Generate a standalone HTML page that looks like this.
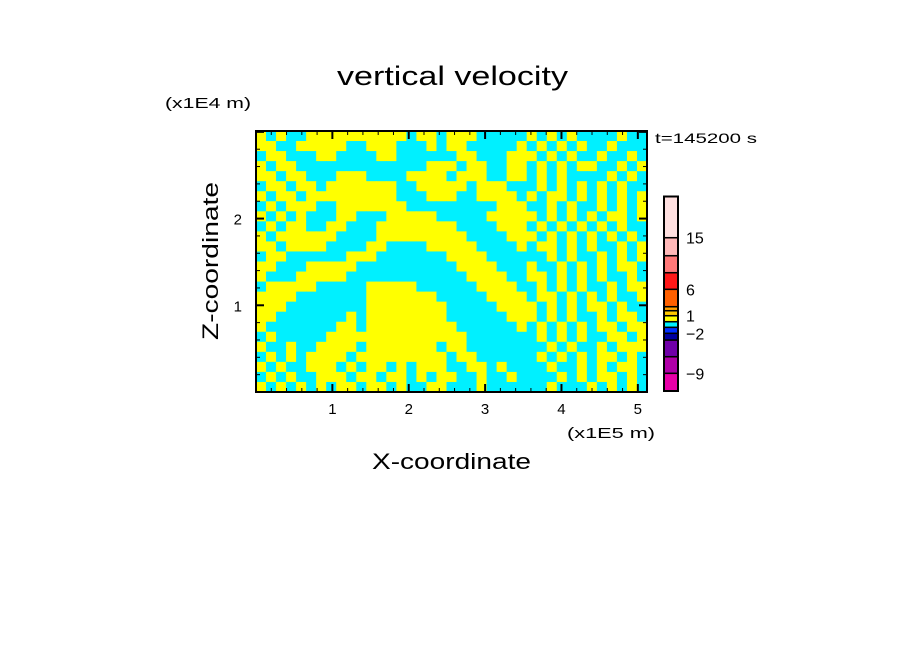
<!DOCTYPE html>
<html><head><meta charset="utf-8"><style>
body{margin:0;background:#fff;}
svg text{font-family:"Liberation Sans","DejaVu Sans",sans-serif;fill:#000;}
</style></head><body>
<svg id="chart" width="904" height="654" viewBox="0 0 904 654" xmlns="http://www.w3.org/2000/svg">
<rect width="904" height="654" fill="#fff"/>
<text x="337" y="85" font-size="27" textLength="231" lengthAdjust="spacingAndGlyphs">vertical velocity</text>
<text x="165" y="108" font-size="15" textLength="86" lengthAdjust="spacingAndGlyphs">(x1E4 m)</text>
<text x="655" y="143" font-size="14" textLength="102" lengthAdjust="spacingAndGlyphs">t=145200 s</text>
<text x="567" y="438" font-size="15" textLength="88" lengthAdjust="spacingAndGlyphs">(x1E5 m)</text>
<text x="372" y="469" font-size="22" textLength="159" lengthAdjust="spacingAndGlyphs">X-coordinate</text>
<text x="0" y="0" font-size="22" textLength="158" lengthAdjust="spacingAndGlyphs" transform="translate(218,340) rotate(-90)">Z-coordinate</text>
<g id="field"></g>
<g id="axes"></g>
<g id="cbar"></g>
</svg>
<script>
const xTicks=[1,2,3,4,5];
const yTicks=[1,2];
const xDomain=[0,5.12];
const yDomain=[0,3.01];
const cbarLevels=[-12,-9,-6,-3,-2,-1,0,1,2,3,6,9,12,15,21];
const cbarColors=["#e800a8","#b000a8","#7000a8","#0000a0","#0030ff","#00f0ff","#ffff00","#ffc800","#ffa000","#ff6000","#ff1818","#ff7878","#ffb8b8","#ffe0e0"];
const cbarLabels=[-9,-2,1,6,15];
const fieldRows=[
"YcYccYYYYYYYYYYcYYcYYYcccccYcYcYccccYcc",
"YYccYYYYYccYYYcccYcYYcccccYcYcYcYccYccc",
"cYYcccYYccccYYccccccYYcccYYYcYcYccYccYc",
"YcYYcccccccccccccYYYcYYccYYcYcYcYYccYcY",
"YYcYYcccYYYccccYYYYcYYYccYYcYcYccccYcYc",
"cYYcYYcYYYYYYYccYYYYYcYYYcccYcYcYcYcYcc",
"YcYYcYYYYYYYYYcccYYYccYYYYcYcYYcYcYcYcY",
"cYcYYYccYYYYYYYcccccccccYYYccYcYccYcYcYc",
"YcYcYcccYYcccYYYYYcccccYYYYYcYcYcYcYYcY",
"cYcYYccYYcccYYYYYYYYccccYYYcYcYcYcYcYcc",
"YcYYYYYYccccYYYYYYYYYccccYYYcYcYcYcYcYc",
"YYcYYYYccccYYccccYYYYYccccYcYYcYcYccYcY",
"cYYccccccYYYcccccccYYYYccccccYcYccYcYcY",
"YYcccYYYYYccccccccccYYYYcccYccYcYcYcYYc",
"YcccYYYYYccccccccccccYYYYccYYcYcYcYccYc",
"cYYYYYcccccYYYYYccccccYYYYccYcYcYccYcYY",
"YYYYcccccccYYYYYYYcccccYYYYcYYcYcYcYccY",
"YYYccccccccYYYYYYYYcccccYYYYcYcYcYYcYcc",
"YYcccccccYcYYYYYYYYccccccYYYcYcYccYcYYc",
"YcccccccYYcYYYYYYYYYccccccYcYcYcYcYYcYY",
"cYcccccYYYYYYYYYYYYYYcccccccYcYcYccYYcY",
"YccYccYYYYcYYYYYYYcYYccccccccYcYccYcYYY",
"cYcYcYYYYcYYYYYYYYYcYYccccccYcYcYcYYcY",
"YcYccYYYcYcYYcYcYYYccYYcYccccYccYcYcYY",
"cYcYccYYYcYYcYYcYcYYccYccYccccYcYcYYcYc",
"YcYcYcYcYYcYYcYccYYcccYccccccYcccYcYcY"
];
const fieldColors={Y:"#ffff00",c:"#00f0ff"};
const NS="http://www.w3.org/2000/svg";
const plot={x0:256,x1:647,y0:131,y1:392};
const cbarEdgePx=[391,373.3,356.7,340,333.3,327.3,321.7,315.7,310.7,306.7,289.3,272.7,255.7,237.7,196.5];
function sx(v){return plot.x0+(v-xDomain[0])/(xDomain[1]-xDomain[0])*(plot.x1-plot.x0);}
function sy(v){return plot.y1-(v-yDomain[0])/(yDomain[1]-yDomain[0])*(plot.y1-plot.y0);}
function mk(tag,attrs,parent){const e=document.createElementNS(NS,tag);for(const k in attrs)e.setAttribute(k,attrs[k]);parent.appendChild(e);return e;}
const field=document.getElementById('field');
const nr=fieldRows.length,nc=39;
const cw=(plot.x1-plot.x0)/nc,ch=(plot.y1-plot.y0)/nr;
fieldRows.forEach((row,r)=>{
  for(let c=0;c<nc;c++){
    const k=row[c]||'c';
    const cell=mk('rect',{x:(plot.x0+c*cw).toFixed(2),y:(plot.y0+r*ch).toFixed(2),width:(cw+0.6).toFixed(2),height:(ch+0.6).toFixed(2),fill:fieldColors[k]},field);
    
    
  }
});
const axes=document.getElementById('axes');
const frame=mk('rect',{x:plot.x0,y:plot.y0,width:plot.x1-plot.x0,height:plot.y1-plot.y0,fill:'none',stroke:'#000','stroke-width':2},axes);


for(let v=0.2;v<xDomain[1];v+=0.2){
  const major=Math.abs(v-Math.round(v))<0.01;const L=major?8:4;const x=sx(v);
  mk('line',{x1:x,x2:x,y1:plot.y1,y2:plot.y1-L,stroke:'#000','stroke-width':major?2:1},axes);
  mk('line',{x1:x,x2:x,y1:plot.y0,y2:plot.y0+L,stroke:'#000','stroke-width':major?2:1},axes);
}
for(let v=0.2;v<yDomain[1];v+=0.2){
  const major=Math.abs(v-Math.round(v))<0.01;const L=major?8:4;const y=sy(v);
  mk('line',{x1:plot.x0,x2:plot.x0+L,y1:y,y2:y,stroke:'#000','stroke-width':major?2:1},axes);
  mk('line',{x1:plot.x1,x2:plot.x1-L,y1:y,y2:y,stroke:'#000','stroke-width':major?2:1},axes);
}
xTicks.forEach(v=>{const t=mk('text',{x:sx(v),y:plot.y1+22,'font-size':15,'text-anchor':'middle'},axes);t.textContent=v;

});
yTicks.forEach(v=>{const t=mk('text',{x:plot.x0-14,y:sy(v)+6,'font-size':15,'text-anchor':'end'},axes);t.textContent=v;

});
const cb=document.getElementById('cbar');
const cbx=664,cbw=14;
cbarColors.forEach((col,i)=>{
  const yb=cbarEdgePx[i],yt=cbarEdgePx[i+1];
  const s=mk('rect',{x:cbx,y:yt,width:cbw,height:yb-yt,fill:col,stroke:'#000','stroke-width':1.5},cb);
  
  
});
mk('rect',{x:cbx,y:cbarEdgePx[cbarEdgePx.length-1],width:cbw,height:cbarEdgePx[0]-cbarEdgePx[cbarEdgePx.length-1],fill:'none',stroke:'#000','stroke-width':2},cb);
function levelY(v){const i=cbarLevels.indexOf(v);return i>=0?cbarEdgePx[i]:cbarEdgePx[0];}
cbarLabels.forEach(v=>{
  const t=mk('text',{x:686,y:levelY(v)+6,'font-size':16},cb);
  t.textContent=v<0?'\u2212'+(-v):String(v);
  
  
});
</script>
</body></html>
